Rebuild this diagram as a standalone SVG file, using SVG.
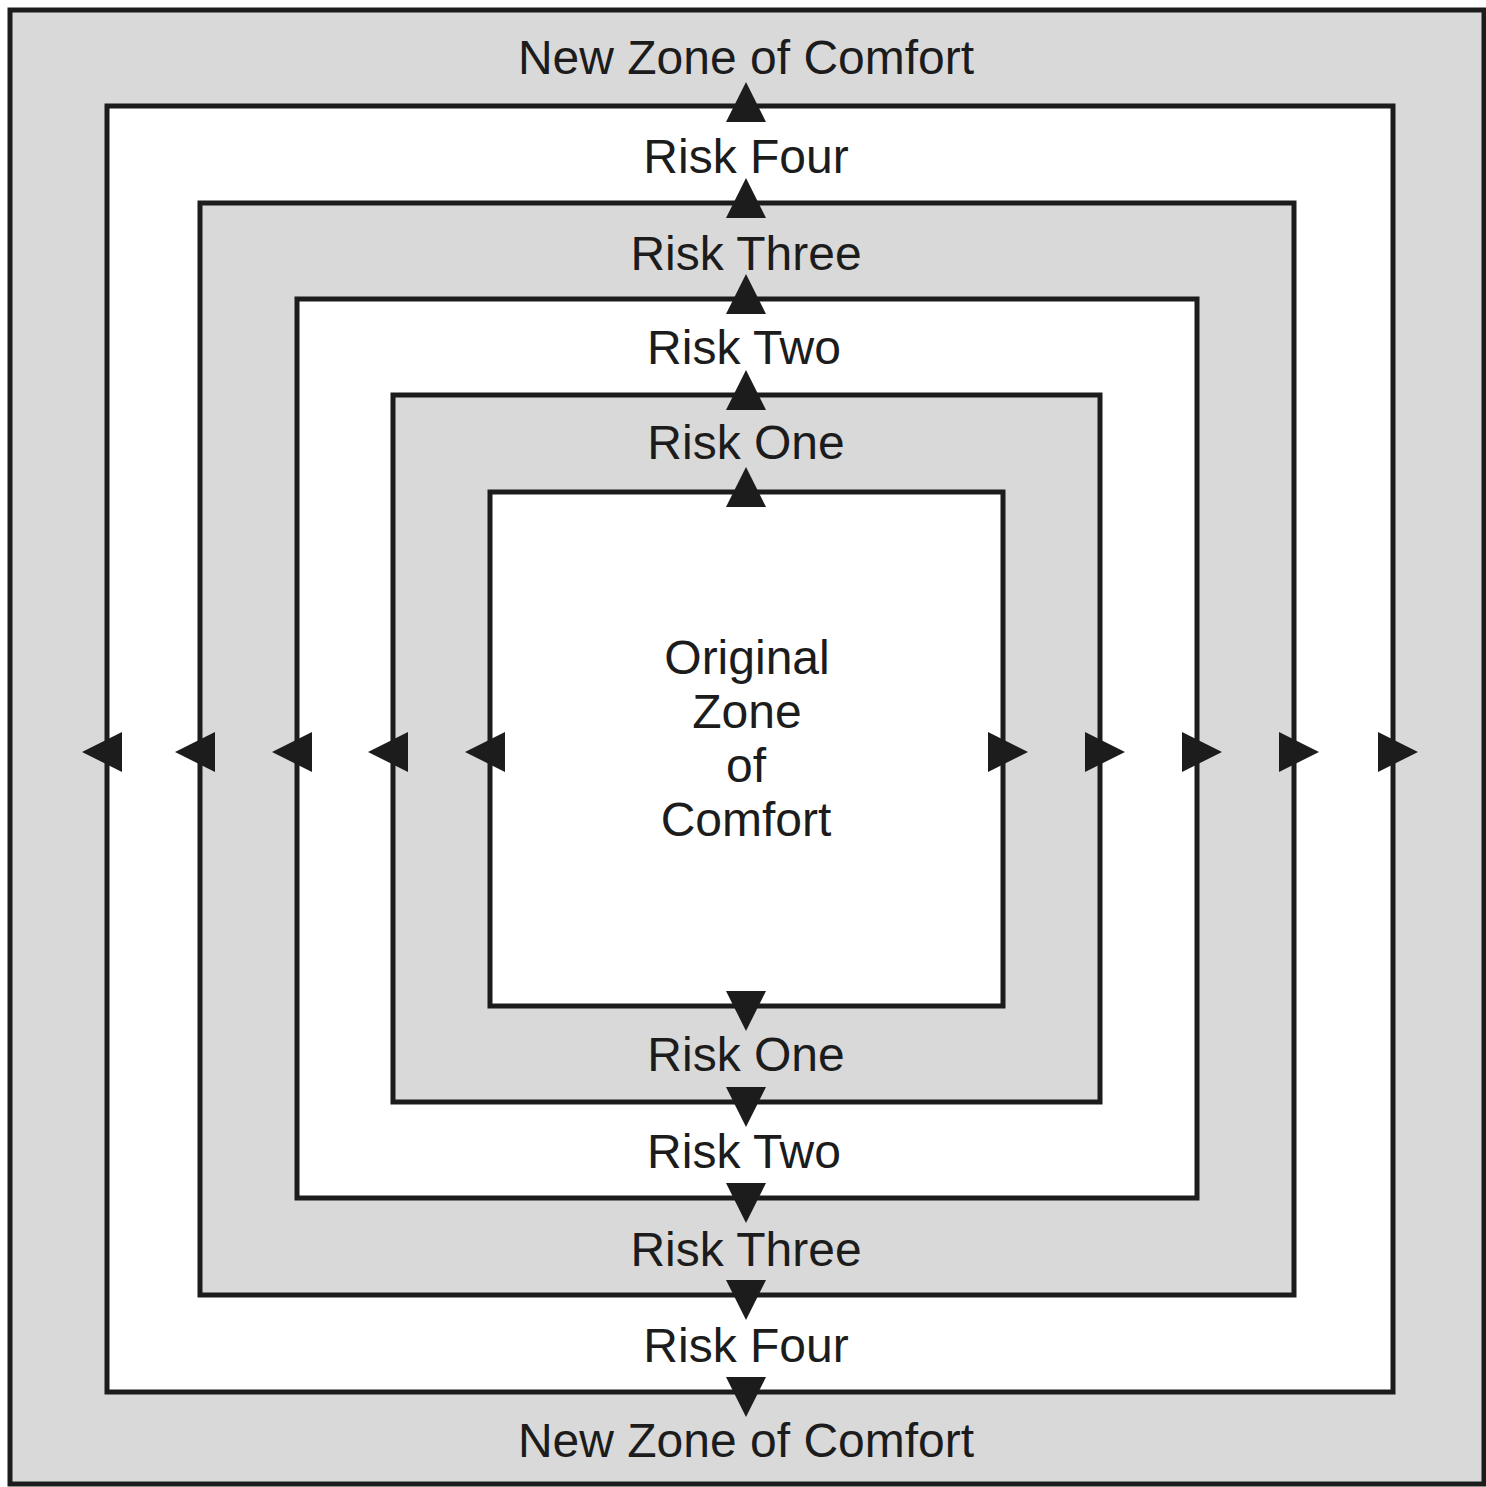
<svg xmlns="http://www.w3.org/2000/svg" width="1486" height="1487" viewBox="0 0 1486 1487">
<style>
.frame{stroke:#1c1c1c;stroke-width:5;stroke-linejoin:miter}
.gray{fill:#d9d9d9}
.white{fill:#ffffff}
.lbl{font-family:"Liberation Sans",Arial,Helvetica,sans-serif;font-size:48px;fill:#1c1c1c;text-anchor:middle}
.arrow{fill:#1c1c1c}
</style>
<defs>
<path id="tri" d="M0,-25 L20,15 L-20,15 Z"/>
</defs>
<rect x="0" y="0" width="1486" height="1487" fill="#ffffff"/>
<g id="zone-new">
<rect class="frame gray" x="10" y="10" width="1474" height="1474"/>
<text class="lbl" x="746" y="74">New Zone of Comfort</text>
<text class="lbl" x="746" y="1457">New Zone of Comfort</text>
</g>
<g id="risk-four">
<rect class="frame white" x="107" y="106" width="1286" height="1286"/>
<text class="lbl" x="746" y="173">Risk Four</text>
<text class="lbl" x="746" y="1362">Risk Four</text>
</g>
<g id="risk-three">
<rect class="frame gray" x="200" y="203" width="1094" height="1092"/>
<text class="lbl" x="746" y="270">Risk Three</text>
<text class="lbl" x="746" y="1266">Risk Three</text>
</g>
<g id="risk-two">
<rect class="frame white" x="297" y="299" width="900" height="899"/>
<text class="lbl" x="744" y="364">Risk Two</text>
<text class="lbl" x="744" y="1168">Risk Two</text>
</g>
<g id="risk-one">
<rect class="frame gray" x="393" y="395" width="707" height="707"/>
<text class="lbl" x="746" y="459">Risk One</text>
<text class="lbl" x="746" y="1071">Risk One</text>
</g>
<g id="zone-original">
<rect class="frame white" x="490" y="492" width="513" height="514"/>
<text class="lbl" x="747" y="674">Original</text>
<text class="lbl" x="747" y="728">Zone</text>
<text class="lbl" x="746" y="782">of</text>
<text class="lbl" x="746" y="836">Comfort</text>
</g>
<g id="connectors" class="arrow">
<use href="#tri" transform="translate(746,107)"/>
<use href="#tri" transform="translate(746,203)"/>
<use href="#tri" transform="translate(746,299)"/>
<use href="#tri" transform="translate(746,395)"/>
<use href="#tri" transform="translate(746,492)"/>
<use href="#tri" transform="translate(746,1006) rotate(180)"/>
<use href="#tri" transform="translate(746,1102) rotate(180)"/>
<use href="#tri" transform="translate(746,1198) rotate(180)"/>
<use href="#tri" transform="translate(746,1295) rotate(180)"/>
<use href="#tri" transform="translate(746,1392) rotate(180)"/>
<use href="#tri" transform="translate(107,752) rotate(-90)"/>
<use href="#tri" transform="translate(200,752) rotate(-90)"/>
<use href="#tri" transform="translate(297,752) rotate(-90)"/>
<use href="#tri" transform="translate(393,752) rotate(-90)"/>
<use href="#tri" transform="translate(490,752) rotate(-90)"/>
<use href="#tri" transform="translate(1003,752) rotate(90)"/>
<use href="#tri" transform="translate(1100,752) rotate(90)"/>
<use href="#tri" transform="translate(1197,752) rotate(90)"/>
<use href="#tri" transform="translate(1294,752) rotate(90)"/>
<use href="#tri" transform="translate(1393,752) rotate(90)"/>
</g>
</svg>
